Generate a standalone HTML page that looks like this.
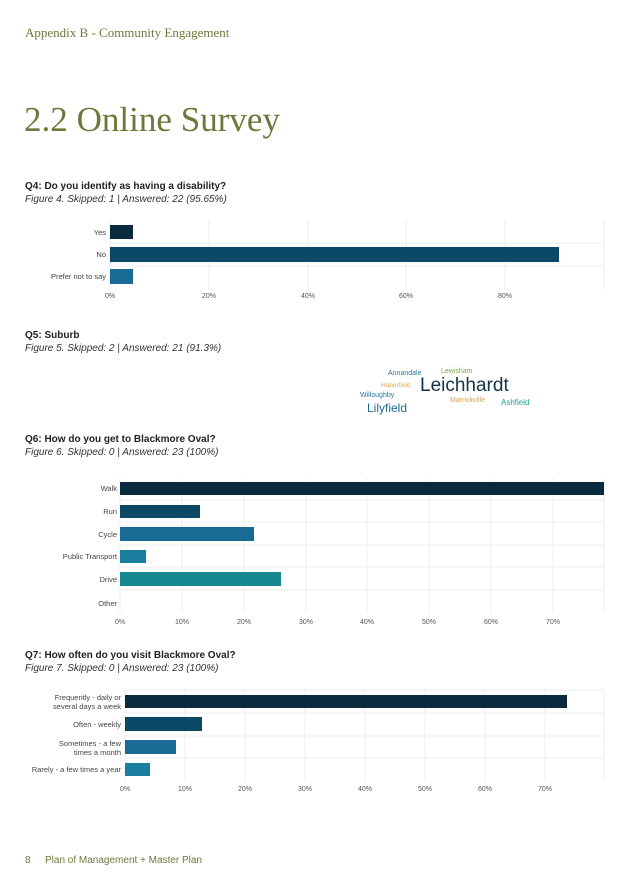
<!DOCTYPE html>
<html><head><meta charset="utf-8"><style>
html,body{margin:0;padding:0;background:#fff;}
svg{display:block;font-family:"Liberation Sans",sans-serif;}
.lab{font-size:7.5px;fill:#444;text-anchor:end;}
.ax{font-size:7px;fill:#555;text-anchor:middle;}
.grid{stroke:#ececec;stroke-width:1;}
.q{font-size:10px;font-weight:bold;fill:#222;}
.f{font-size:10px;font-style:italic;fill:#333;}
</style></head><body>
<svg width="628" height="888" viewBox="0 0 628 888">
<text x="25" y="37" font-family="Liberation Serif" font-size="13" fill="#6b7a3a">Appendix B - Community Engagement</text>
<text x="24" y="131" font-family="Liberation Serif" font-size="35" fill="#6b7a3a" textLength="256" lengthAdjust="spacingAndGlyphs">2.2  Online Survey</text>

<text x="25" y="189" class="q">Q4:  Do you identify as having a disability?</text>
<text x="25" y="202" class="f">Figure 4. Skipped: 1 | Answered: 22 (95.65%)</text>
<g>
<line class="grid" x1="110" y1="220" x2="110" y2="289"/><line class="grid" x1="209" y1="220" x2="209" y2="289"/><line class="grid" x1="308" y1="220" x2="308" y2="289"/><line class="grid" x1="406" y1="220" x2="406" y2="289"/><line class="grid" x1="505" y1="220" x2="505" y2="289"/><line class="grid" x1="604" y1="220" x2="604" y2="289"/>
<line class="grid" x1="110" y1="243" x2="604" y2="243"/><line class="grid" x1="110" y1="266" x2="604" y2="266"/>
<rect x="110" y="225" width="23" height="14" fill="#0a2a3e"/>
<rect x="110" y="247" width="449" height="15" fill="#0b4866"/>
<rect x="110" y="269" width="23" height="15" fill="#1a6a96"/>
<text x="106" y="235" class="lab">Yes</text><text x="106" y="257" class="lab">No</text><text x="106" y="279" class="lab">Prefer not to say</text>
<text x="110" y="298" class="ax">0%</text><text x="209" y="298" class="ax">20%</text><text x="308" y="298" class="ax">40%</text><text x="406" y="298" class="ax">60%</text><text x="505" y="298" class="ax">80%</text>
</g>

<text x="25" y="338" class="q">Q5:  Suburb</text>
<text x="25" y="351" class="f">Figure 5. Skipped: 2 | Answered: 21 (91.3%)</text>
<g>
<text x="388" y="375" font-size="7" fill="#2a7aa0">Annandale</text>
<text x="441" y="373" font-size="7" fill="#7aa64a">Lewisham</text>
<text x="381" y="387" font-size="6.5" fill="#e0a860">Haberfield</text>
<text x="420" y="391" font-size="19" fill="#13334a">Leichhardt</text>
<text x="360" y="397" font-size="7" fill="#2a7aa0">Willoughby</text>
<text x="450" y="402" font-size="7" fill="#d4a050">Marrickville</text>
<text x="501" y="405" font-size="8" fill="#22a090">Ashfield</text>
<text x="367" y="412" font-size="12" fill="#1d6a96">Lilyfield</text>
</g>

<text x="25" y="442" class="q">Q6:  How do you get to Blackmore Oval?</text>
<text x="25" y="455" class="f">Figure 6. Skipped: 0 | Answered: 23 (100%)</text>
<g>
<line class="grid" x1="120" y1="478" x2="120" y2="613"/><line class="grid" x1="182" y1="478" x2="182" y2="613"/><line class="grid" x1="244" y1="478" x2="244" y2="613"/><line class="grid" x1="306" y1="478" x2="306" y2="613"/><line class="grid" x1="367" y1="478" x2="367" y2="613"/><line class="grid" x1="429" y1="478" x2="429" y2="613"/><line class="grid" x1="491" y1="478" x2="491" y2="613"/><line class="grid" x1="553" y1="478" x2="553" y2="613"/><line class="grid" x1="604" y1="478" x2="604" y2="613"/>
<line class="grid" x1="120" y1="500" x2="604" y2="500"/><line class="grid" x1="120" y1="522" x2="604" y2="522"/><line class="grid" x1="120" y1="545" x2="604" y2="545"/><line class="grid" x1="120" y1="567" x2="604" y2="567"/><line class="grid" x1="120" y1="590" x2="604" y2="590"/>
<rect x="120" y="482" width="484" height="13" fill="#0a2a3e"/>
<rect x="120" y="505" width="80" height="13" fill="#0b4866"/>
<rect x="120" y="527" width="134" height="14" fill="#1a6a96"/>
<rect x="120" y="550" width="26" height="13" fill="#1a7e9e"/>
<rect x="120" y="572" width="161" height="14" fill="#168890"/>
<text x="117" y="491" class="lab">Walk</text><text x="117" y="514" class="lab">Run</text><text x="117" y="537" class="lab">Cycle</text><text x="117" y="559" class="lab">Public Transport</text><text x="117" y="582" class="lab">Drive</text><text x="117" y="606" class="lab">Other</text>
<text x="120" y="624" class="ax">0%</text><text x="182" y="624" class="ax">10%</text><text x="244" y="624" class="ax">20%</text><text x="306" y="624" class="ax">30%</text><text x="367" y="624" class="ax">40%</text><text x="429" y="624" class="ax">50%</text><text x="491" y="624" class="ax">60%</text><text x="553" y="624" class="ax">70%</text>
</g>

<text x="25" y="658" class="q">Q7:  How often do you visit Blackmore Oval?</text>
<text x="25" y="671" class="f">Figure 7. Skipped: 0 | Answered: 23 (100%)</text>
<g>
<line class="grid" x1="125" y1="690" x2="125" y2="781"/><line class="grid" x1="185" y1="690" x2="185" y2="781"/><line class="grid" x1="245" y1="690" x2="245" y2="781"/><line class="grid" x1="305" y1="690" x2="305" y2="781"/><line class="grid" x1="365" y1="690" x2="365" y2="781"/><line class="grid" x1="425" y1="690" x2="425" y2="781"/><line class="grid" x1="485" y1="690" x2="485" y2="781"/><line class="grid" x1="545" y1="690" x2="545" y2="781"/><line class="grid" x1="604" y1="690" x2="604" y2="781"/>
<line class="grid" x1="125" y1="690" x2="604" y2="690"/><line class="grid" x1="125" y1="713" x2="604" y2="713"/><line class="grid" x1="125" y1="736" x2="604" y2="736"/><line class="grid" x1="125" y1="758" x2="604" y2="758"/>
<rect x="125" y="695" width="442" height="13" fill="#0a2a3e"/>
<rect x="125" y="717" width="77" height="14" fill="#0b4866"/>
<rect x="125" y="740" width="51" height="14" fill="#1a6a96"/>
<rect x="125" y="763" width="25" height="13" fill="#1a7e9e"/>
<text x="121" y="700" class="lab">Frequently - daily or</text><text x="121" y="709" class="lab">several days a week</text>
<text x="121" y="727" class="lab">Often - weekly</text>
<text x="121" y="746" class="lab">Sometimes - a few</text><text x="121" y="755" class="lab">times a month</text>
<text x="121" y="772" class="lab">Rarely - a few times a year</text>
<text x="125" y="791" class="ax">0%</text><text x="185" y="791" class="ax">10%</text><text x="245" y="791" class="ax">20%</text><text x="305" y="791" class="ax">30%</text><text x="365" y="791" class="ax">40%</text><text x="425" y="791" class="ax">50%</text><text x="485" y="791" class="ax">60%</text><text x="545" y="791" class="ax">70%</text>
</g>

<text x="25" y="863" font-size="10" fill="#6b7a3a">8</text>
<text x="45" y="863" font-size="10" fill="#6b7a3a">Plan of Management + Master Plan</text>
</svg>
</body></html>
